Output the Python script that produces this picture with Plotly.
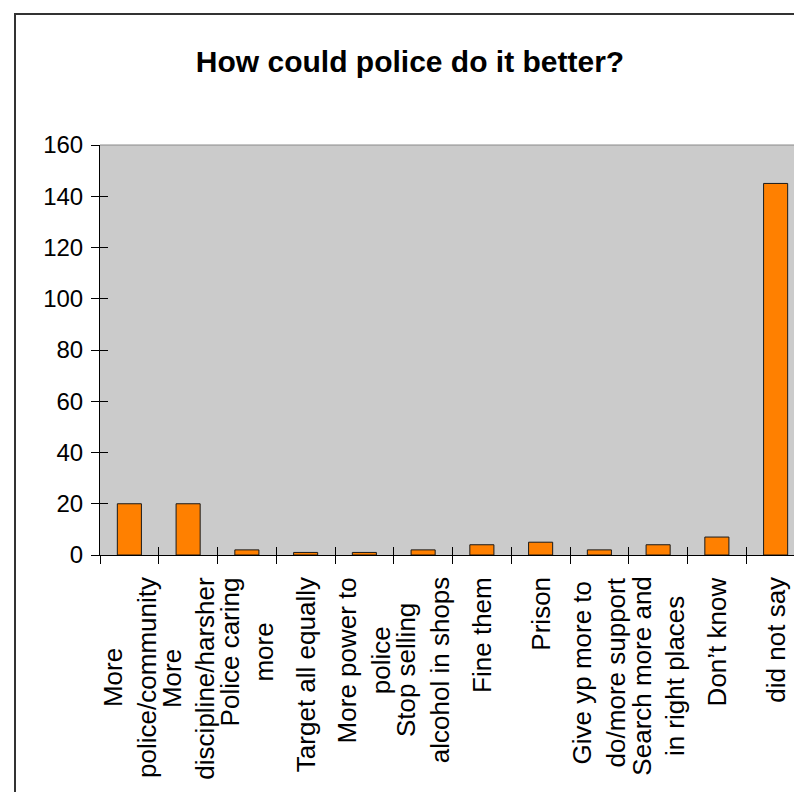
import plotly.graph_objects as go

# ---- data ----
categories = [
    "More<br>police/community",
    "More<br>discipline/harsher",
    "Police caring<br>more",
    "Target all equally",
    "More power to<br>police",
    "Stop selling<br>alcohol in shops",
    "Fine them",
    "Prison",
    "Give yp more to<br>do/more support",
    "Search more and<br>in right places",
    "Don\u2019t know",
    "did not say",
]
values = [20, 20, 2, 1, 1, 2, 4, 5, 2, 4, 7, 145]
title_text = "How could police do it better?"
y_ticks = [0, 20, 40, 60, 80, 100, 120, 140, 160]

# ---- geometry ----
W, H = 802, 792
L, R, T, B = 92, 5, 137, 245
pw, ph = W - L - R, H - T - B

def px_x(p):
    return (p - L) / pw

def px_y(p):
    return (H - B - p) / ph

FONT = "Arial, Liberation Sans, sans-serif"
n = len(categories)
idx = list(range(n))
boundaries = [i - 0.5 for i in range(n + 1)]

fig = go.Figure()
fig.add_trace(go.Bar(
    x=idx, y=values,
    marker=dict(color="#FF8000", line=dict(color="#1a1a1a", width=1)),
    hoverinfo="skip",
))

# category labels (rotated, centred lines)
for i, c in zip(idx, categories):
    fig.add_annotation(
        x=i, y=0, xref="x", yref="y",
        text=c, textangle=-90, showarrow=False,
        xanchor="center", yanchor="top", yshift=-20,
        align="center",
        font=dict(family=FONT, size=26, color="black"),
    )

fig.update_layout(
    width=W, height=H,
    margin=dict(l=L, r=R, t=T, b=B, pad=0),
    paper_bgcolor="white",
    plot_bgcolor="#CBCBCB",
    showlegend=False,
    bargap=0.59,
    title=dict(
        text="<b>" + title_text + "</b>",
        x=402 / W, xref="container", xanchor="center",
        y=1 - 53 / H, yref="container", yanchor="middle",
        font=dict(family=FONT, size=30, color="black"),
    ),
    xaxis=dict(
        range=[-0.5, n - 0.5], tickvals=boundaries, showticklabels=False,
        ticks="outside", ticklen=8, tickcolor="black", tickwidth=1,
        showline=True, linecolor="black", linewidth=1,
        showgrid=False, zeroline=False, fixedrange=True,
    ),
    xaxis2=dict(
        overlaying="x", anchor="y", side="bottom",
        range=[-0.5, n - 0.5], tickvals=boundaries, showticklabels=False,
        ticks="inside", ticklen=8, tickcolor="black", tickwidth=1,
        showline=False, showgrid=False, zeroline=False,
    ),
    yaxis=dict(
        range=[0, 160], tickvals=y_ticks,
        ticks="outside", ticklen=8, tickcolor="black", tickwidth=1,
        ticklabelstandoff=3,
        showline=True, linecolor="black", linewidth=1,
        showgrid=False, zeroline=False,
        tickfont=dict(family=FONT, size=24, color="black"),
    ),
    yaxis2=dict(
        overlaying="y", anchor="x", side="left",
        range=[0, 160], tickvals=y_ticks, showticklabels=False,
        ticks="inside", ticklen=8, tickcolor="black", tickwidth=1,
        showline=False, showgrid=False, zeroline=False,
    ),
    shapes=[
        # plot area border (top / right in grey)
        dict(type="line", xref="paper", yref="paper", x0=0, x1=1, y0=1, y1=1,
             line=dict(color="#8a8a8a", width=1), layer="above"),
        dict(type="line", xref="paper", yref="paper", x0=1, x1=1, y0=0, y1=1,
             line=dict(color="#8a8a8a", width=1), layer="above"),
        # outer chart frame
        dict(type="rect", xref="paper", yref="paper",
             x0=px_x(7), x1=px_x(W + 20), y0=px_y(H + 20), y1=px_y(6),
             line=dict(color="#333333", width=2), layer="above"),
    ],
)

# empty helper trace so the overlay axes render
fig.add_trace(go.Scatter(x=[], y=[], xaxis="x2", yaxis="y2", showlegend=False))

fig.write_html("out.html")
